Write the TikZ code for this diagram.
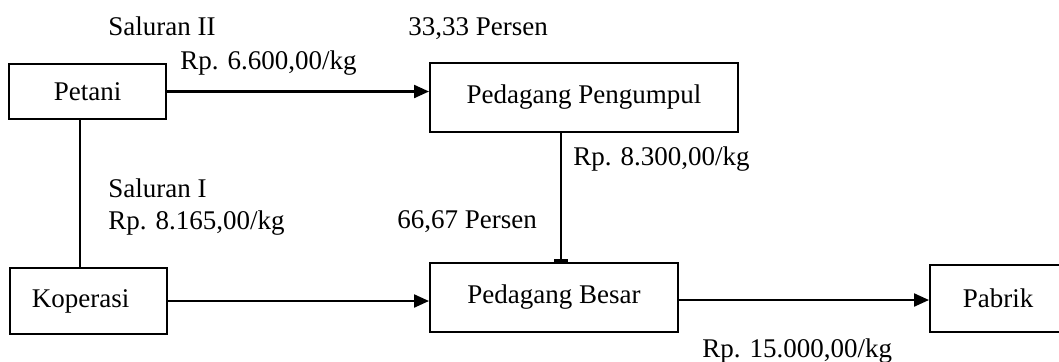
\documentclass[tikz,border=0pt]{standalone}
\usepackage{fontspec}
\setmainfont{Liberation Serif}
\usetikzlibrary{arrows.meta, positioning}

\begin{document}
\begin{tikzpicture}[
    x=0.5pt, y=-0.5pt,
    box/.style={rectangle, draw, line width=1pt, inner sep=0pt, font=\fontsize{13.5}{16}\selectfont},
    arrow/.style={-{Triangle[length=7.5pt,width=6.5pt]}, line width=1.1pt},
    label_style/.style={anchor=base west, inner sep=0pt, font=\fontsize{13.5}{16}\selectfont}
]
\useasboundingbox (0,0) rectangle (1059,361);

% Nodes
\node[box, minimum width=78.5pt, minimum height=27.5pt] (petani) at (87.5,91.5) {Petani};
\node[box, minimum width=154pt, minimum height=34.5pt] (pengumpul) at (584,97.5) {Pedagang Pengumpul};
\node[box, minimum width=78.5pt, minimum height=33pt, text width=56pt, align=left] (koperasi) at (88,301) {Koperasi};
\node[box, minimum width=124pt, minimum height=34.5pt] (besar) at (554,297.5) {Pedagang Besar};
\node[box, minimum width=68pt, minimum height=33.5pt] (pabrik) at (998,298.5) {Pabrik};

% Labels
\node[label_style] (sal2) at (108,35) {Saluran II};
\node[label_style] (harga2) at (180,69) {Rp. 6.600,00/kg};
\node[label_style] (persen2) at (408,35) {33,33 Persen};
\node[label_style] (hargapp) at (573,165) {Rp. 8.300,00/kg};
\node[label_style] (sal1) at (108,197) {Saluran I};
\node[label_style] (harga1) at (108,229) {Rp. 8.165,00/kg};
\node[label_style] (persen1) at (397,228) {66,67 Persen};
\node[label_style] (hargapb) at (702,357) {Rp. 15.000,00/kg};

% Arrows
\draw[arrow] (petani.east) -- (petani.east -| pengumpul.west);
\draw[line width=0.8pt] ([xshift=-3.75pt]petani.south) -- ([xshift=-3.75pt]petani.south |- koperasi.north);
\draw[line width=1.1pt, -{Rectangle[length=1.5pt,width=7pt]}] ([xshift=-11.5pt]pengumpul.south) -- ([xshift=-11.5pt]pengumpul.south |- besar.north);
\draw[arrow] (koperasi.east) -- (koperasi.east -| besar.west);
\draw[arrow] ([yshift=-1.25pt]besar.east) -- ([yshift=-1.25pt]besar.east -| pabrik.west);

\end{tikzpicture}
\end{document}
